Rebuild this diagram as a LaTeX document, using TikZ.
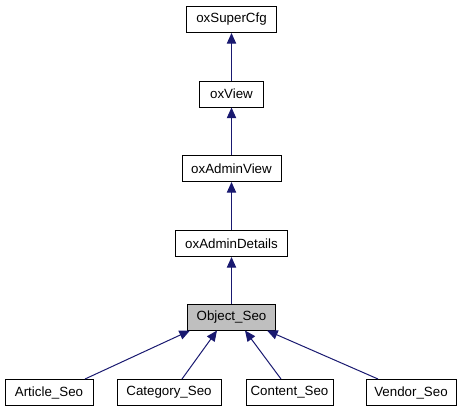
\documentclass[tikz,border=0pt]{standalone}
\usepackage{fontspec}
\setmainfont{Liberation Sans}
\usetikzlibrary{arrows.meta,calc}
\definecolor{edgeblue}{HTML}{191970}
\definecolor{hl}{HTML}{BFBFBF}
\begin{document}
\begin{tikzpicture}[x=0.75pt,y=-0.75pt,
  cls/.style={draw=black,line width=0.75pt,fill=white,inner sep=0pt,minimum height=19.5pt,font=\fontsize{10pt}{12pt}\selectfont},
  inh/.style={draw=edgeblue,line width=0.75pt,{Triangle[length=8pt,width=7pt,fill=edgeblue]}-}]
\useasboundingbox (0,0) rectangle (461,411);
\node[cls,minimum width=67.5pt] (sup) at (231.5,19.5) {oxSuperCfg};
\node[cls,minimum width=48pt] (view) at (231.5,94) {oxView};
\node[cls,minimum width=74.25pt] (aview) at (231.5,168.5) {oxAdminView};
\node[cls,minimum width=84pt] (adet) at (231.5,243.5) {oxAdminDetails};
\node[cls,minimum width=66pt,fill=hl] (obj) at (231.5,317) {Object\_Seo};
\node[cls,minimum width=66pt] (art) at (49,392.5) {Article\_Seo};
\node[cls,minimum width=78pt] (cat) at (169,392.5) {Category\_Seo};
\node[cls,minimum width=65.25pt] (con) at (289.5,392.5) {Content\_Seo};
\node[cls,minimum width=67.5pt] (ven) at (411,392.5) {Vendor\_Seo};
\draw[inh] (sup.south) -- (view.north);
\draw[inh] (view.south) -- (aview.north);
\draw[inh] (aview.south) -- (adet.north);
\draw[inh] (adet.south) -- (obj.north);
\draw[inh] ($(obj.south)+(-41.5,0)$) -- ($(art.north)+(36,0)$);
\draw[inh] ($(obj.south)+(-14.5,0)$) -- ($(cat.north)+(13,0)$);
\draw[inh] ($(obj.south)+(13.5,0)$) -- ($(con.north)+(-8.5,0)$);
\draw[inh] ($(obj.south)+(35.5,0)$) -- ($(ven.north)+(-33,0)$);
\end{tikzpicture}
\end{document}
